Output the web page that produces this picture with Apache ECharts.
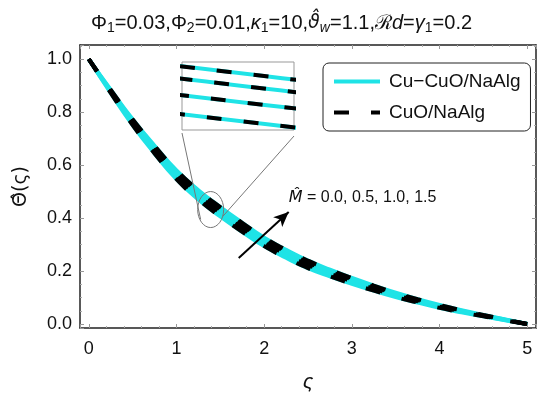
<!DOCTYPE html>
<html>
<head>
	<meta charset="utf-8">
	<title>Theta profile</title>
	<script src="https://cdn.jsdelivr.net/npm/echarts@6/dist/echarts.min.js"></script>
	<style>
		* {
			margin: 0;
			padding: 0;
		}
		#main {
			width: 550px;
			height: 401px;
			background: #fff;
		}
	</style>
</head>
<body>
	<div id="main"></div>
	<script>
		// step 0.25 in zeta
		let zeta = [0, 0.25, 0.5, 0.75, 1, 1.25, 1.5, 1.75, 2, 2.25, 2.5, 2.75, 3, 3.25, 3.5, 3.75, 4, 4.25, 4.5, 4.75, 5];
		let thetaM00 = [1, 0.872, 0.751, 0.644, 0.547, 0.470, 0.406, 0.348, 0.294, 0.250, 0.211, 0.180, 0.152, 0.126, 0.102, 0.081, 0.061, 0.044, 0.029, 0.014, 0];
		let thetaM05 = [1, 0.877, 0.760, 0.656, 0.560, 0.484, 0.420, 0.362, 0.307, 0.263, 0.223, 0.190, 0.161, 0.133, 0.109, 0.086, 0.065, 0.047, 0.031, 0.015, 0];
		let thetaM10 = [1, 0.881, 0.768, 0.665, 0.571, 0.496, 0.432, 0.374, 0.318, 0.273, 0.232, 0.198, 0.169, 0.140, 0.114, 0.090, 0.069, 0.050, 0.032, 0.016, 0];
		let thetaM15 = [1, 0.884, 0.773, 0.673, 0.580, 0.505, 0.441, 0.382, 0.326, 0.280, 0.239, 0.205, 0.174, 0.145, 0.118, 0.094, 0.072, 0.052, 0.034, 0.017, 0];
		// both fluids lie on top of each other in the picture
		let hybridList = [thetaM00, thetaM05, thetaM10, thetaM15];
		let nanoList = [thetaM00, thetaM05, thetaM10, thetaM15];
		let legendNames = ['Cu\u2212CuO/NaAlg', 'CuO/NaAlg'];
		let mValues = ['0.0', '0.5', '1.0', '1.5'];
		// zoom window of the inset
		let insetX = [1.39, 1.43];
		let insetY = [0.421, 0.471];

		let myChart = null;
		let cyan = '#1fe3e6';
		let dash = [15, 22];
		let font = 'Liberation Sans, Arial, sans-serif';

		function frameAxis(pos, extra) {
			return Object.assign({
				type: 'value',
				position: pos,
				gridIndex: 0,
				axisLine: { show: true, onZero: false, lineStyle: { color: '#222', width: 1.5 } },
				axisTick: { show: true, inside: true, length: 4, lineStyle: { color: '#999' } },
				splitLine: { show: false },
				axisLabel: { show: false }
			}, extra);
		}

		function fresh() {
			if (myChart == null) {
				myChart = echarts.init(document.getElementById('main'));
			}
			let seriesList = [];
			[hybridList, nanoList].forEach((list, k) => {
				list.forEach((arr) => {
					[0, 2].forEach((ax) => {
						let col = k == 0 ? cyan : '#000';
						seriesList.push({
							name: legendNames[k],
							type: 'line',
							xAxisIndex: ax,
							yAxisIndex: ax,
							data: zeta.map((z, j) => [z, arr[j]]),
							smooth: true,
							symbol: 'none',
							silent: true,
							z: k == 0 ? 2 : 3,
							itemStyle: { color: col },
							lineStyle: k == 0 ? { color: col, width: 4 } : { color: col, width: 4, type: dash }
						});
					});
				});
			});
			// arrow for increasing M
			seriesList[0].markLine = {
				silent: true,
				symbol: ['none', 'arrow'],
				symbolSize: [10, 15],
				label: { show: false },
				lineStyle: { color: '#000', width: 2, type: 'solid' },
				data: [[{ coord: [1.71, 0.249] }, { coord: [2.28, 0.423] }]]
			};

			let xMain = { min: -0.1, max: 5.1, splitNumber: 5, minorTick: { show: true, splitNumber: 5, length: 2, lineStyle: { color: '#aaa' } } };
			let yMain = { min: -0.015, max: 1.053, splitNumber: 5, minorTick: { show: true, splitNumber: 4, length: 2, lineStyle: { color: '#aaa' } } };

			let option = {
				animation: false,
				title: {
					text: '{t|\u03a6}{s|1}{t|=0.03,\u03a6}{s|2}{t|=0.01,}{i|\u03ba}{s|1}{t|=10,}{v|\u03d1\u0302}{si|w}{t|=1.1,\u211b}{i|d}{t|=}{i|\u03b3}{s|1}{t|=0.2}',
					left: 86,
					top: 6,
					textStyle: {
						fontWeight: 'normal',
						rich: {
							t: { fontSize: 20, fontFamily: font, fontWeight: 'normal', color: '#111' },
							i: { fontSize: 20, fontFamily: font, fontWeight: 'normal', fontStyle: 'italic', color: '#111' },
							v: { fontSize: 19, fontFamily: 'DejaVu Sans', fontWeight: 'normal', fontStyle: 'italic', color: '#111' },
							s: { fontSize: 14, fontFamily: font, fontWeight: 'normal', color: '#111', padding: [10, 0, 0, 0] },
							si: { fontSize: 14, fontFamily: font, fontWeight: 'normal', fontStyle: 'italic', color: '#111', padding: [10, 0, 0, 0] }
						}
					}
				},
				legend: {
					data: [
						{ name: legendNames[0], lineStyle: { width: 4, type: 'solid', color: cyan } },
						{ name: legendNames[1], lineStyle: { width: 4, type: dash, dashOffset: 0, color: '#000' } }
					],
					orient: 'vertical',
					left: 323,
					top: 63,
					width: 208,
					padding: [9, 10, 9, 9],
					itemGap: 12,
					itemWidth: 46,
					itemHeight: 12,
					itemStyle: { opacity: 0 },
					borderColor: '#222',
					borderWidth: 1,
					borderRadius: 6,
					selectedMode: false,
					textStyle: { fontSize: 19, fontFamily: font, color: '#111', padding: [0, 0, 0, 4] }
				},
				grid: [
					{ left: 80, top: 45, right: 14, bottom: 73 },
					{ left: 182, top: 62, width: 112, height: 68, show: true, borderColor: '#999', borderWidth: 1, backgroundColor: '#fff' }
				],
				xAxis: [
					frameAxis('bottom', Object.assign({}, xMain, {
						name: '\u03c2',
						nameLocation: 'middle',
						nameGap: 44,
						nameTextStyle: { fontSize: 21, fontFamily: font, fontStyle: 'italic', color: '#111' },
						axisLabel: { show: true, showMinLabel: false, showMaxLabel: false, fontSize: 18, fontFamily: font, color: '#111', margin: 12 }
					})),
					frameAxis('top', xMain),
					{ type: 'value', gridIndex: 1, min: insetX[0], max: insetX[1], show: false }
				],
				yAxis: [
					frameAxis('left', Object.assign({}, yMain, {
						name: '\u0398\u0302(\u03c2)',
						nameLocation: 'middle',
						nameGap: 49,
						nameRotate: 90,
						nameTextStyle: { fontSize: 19, fontFamily: 'DejaVu Sans', color: '#111' },
						axisLabel: {
							show: true, showMinLabel: false, showMaxLabel: false, fontSize: 18, fontFamily: font, color: '#111', margin: 8,
							formatter: (v) => v.toFixed(1)
						}
					})),
					frameAxis('right', yMain),
					{ type: 'value', gridIndex: 1, min: insetY[0], max: insetY[1], show: false }
				],
				series: seriesList
			};
			myChart.setOption(option);

			// magnifier ellipse, connectors and label
			let c = myChart.convertToPixel({ xAxisIndex: 0, yAxisIndex: 0 }, [1.39, 0.432]);
			let lab = myChart.convertToPixel({ xAxisIndex: 0, yAxisIndex: 0 }, [2.28, 0.476]);
			myChart.setOption({
				graphic: [
					{ type: 'ellipse', shape: { cx: c[0], cy: c[1], rx: 13, ry: 18 }, style: { fill: 'none', stroke: '#777', lineWidth: 1 }, z: 10 },
					{ type: 'line', shape: { x1: 182, y1: 133, x2: c[0] - 10, y2: c[1] + 10 }, style: { stroke: '#777', lineWidth: 1 }, z: 10 },
					{ type: 'line', shape: { x1: 294, y1: 136, x2: c[0] + 12, y2: c[1] + 7 }, style: { stroke: '#777', lineWidth: 1 }, z: 10 },
					{
						type: 'text', x: lab[0], y: lab[1], z: 10,
						style: {
							text: '{i|M\u0302}{t| = ' + mValues.join(', ') + '}',
							verticalAlign: 'middle',
							rich: {
								i: { fontSize: 16, fontFamily: 'DejaVu Sans', fontStyle: 'italic', fill: '#111' },
								t: { fontSize: 16, fontFamily: font, fill: '#111' }
							}
						}
					}
				]
			});
		}
		fresh();
	</script>
</body>
</html>
